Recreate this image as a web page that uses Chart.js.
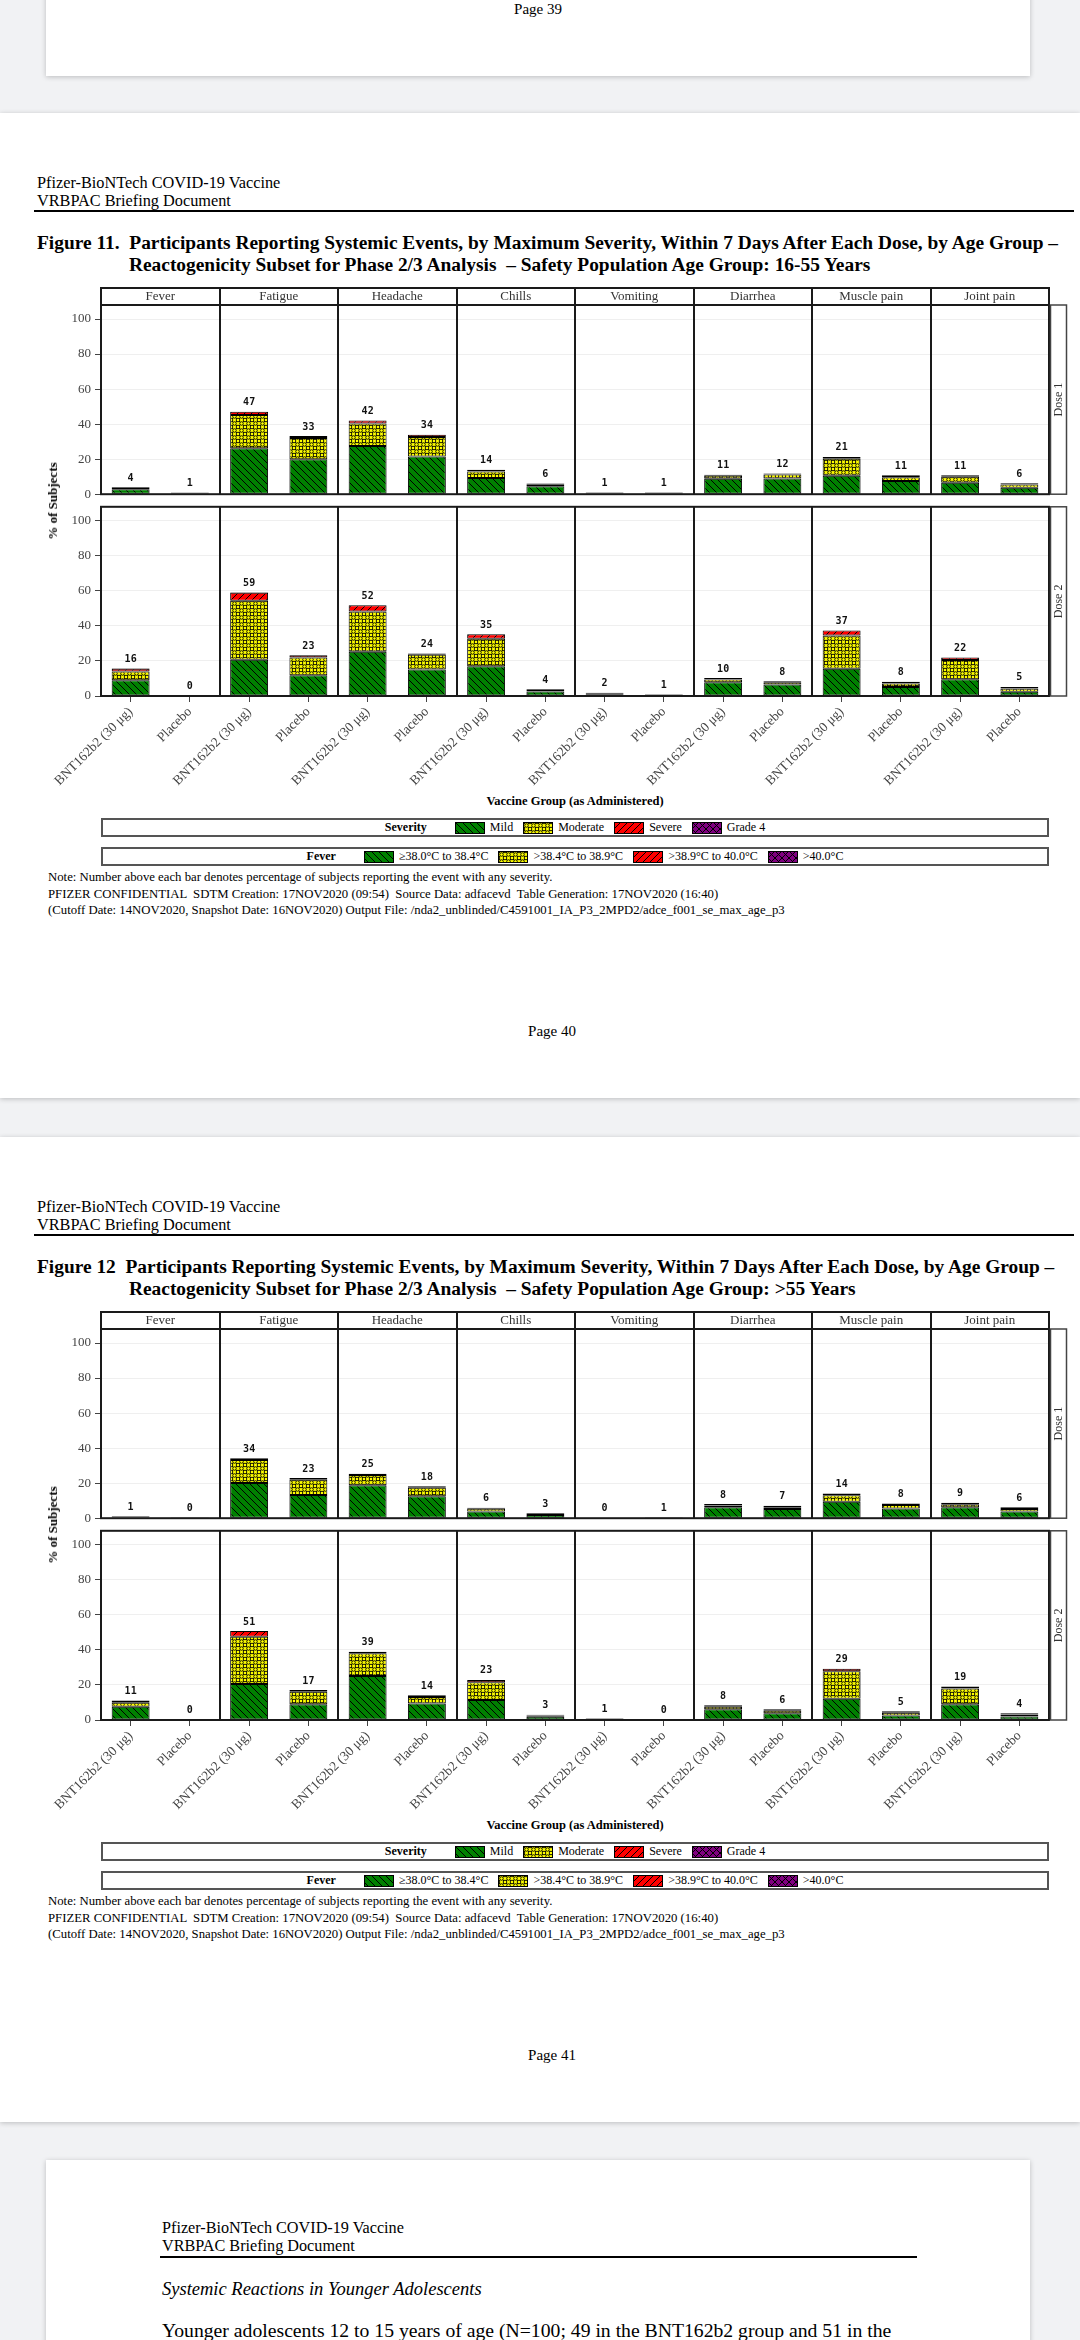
<!DOCTYPE html>
<html>
<head>
<meta charset="utf-8">
<script src="https://cdn.jsdelivr.net/npm/chart.js@4.4.1/dist/chart.umd.min.js"></script>
<style>
body { margin: 0; width: 1080px; height: 2340px; background: #f1f2f4; position: relative; overflow: hidden;
       font-family: "Liberation Serif", "Times New Roman", serif; color: #000; }
.card { position: absolute; background: #fff; box-shadow: 0 1px 5px rgba(0,0,0,.22); }
.t { position: absolute; white-space: nowrap; line-height: 20px; }
canvas.c { position: absolute; left: 0; }
.leg { position: absolute; left: 101px; width: 944px; height: 15px; border: 2px solid #555; background: #fff;
       display: flex; justify-content: center; align-items: center; font-size: 12px; gap: 0; }
.leg b { margin-right: 18px; }
.leg canvas { margin: 0 5px 0 10px; }
</style>
</head>
<body>
<script>
const symptoms = ['Fever', 'Fatigue', 'Headache', 'Chills', 'Vomiting', 'Diarrhea', 'Muscle pain', 'Joint pain'];
const groups = ['BNT162b2 (30 \u03bcg)', 'Placebo'];
const yTickValues = [0, 20, 40, 60, 80, 100];
const severityNames = ['Mild', 'Moderate', 'Severe', 'Grade 4'];
const feverNames = ['\u226538.0\u00b0C to 38.4\u00b0C', '>38.4\u00b0C to 38.9\u00b0C', '>38.9\u00b0C to 40.0\u00b0C', '>40.0\u00b0C'];

// Figure 11, age 16-55 (pairs: BNT162b2, Placebo per symptom)
const f11d1Mild     = [2.8, 0.6, 26.2, 20.0, 27.5, 21.5, 9.3, 4.5, 0.6, 0.6, 8.8, 9.0, 10.6, 7.5, 6.5, 3.7];
const f11d1Moderate = [0.8, 0.2, 19.0, 12.1, 12.9, 11.2, 3.7, 1.2, 0.3, 0.3, 1.8, 2.2, 9.6, 2.2, 3.4, 1.9];
const f11d1Severe   = [0.4, 0.2, 1.9, 1.1, 1.6, 1.3, 1.0, 0.4, 0.1, 0.1, 0.5, 0.6, 1.1, 1.1, 0.9, 0.6];
const f11d1Grade4   = [0.1, 0.1, 0, 0, 0, 0, 0, 0, 0, 0, 0, 0, 0, 0, 0, 0];
const f11d1Total    = [4, 1, 47, 33, 42, 34, 14, 6, 1, 1, 11, 12, 21, 11, 11, 6];

const f11d2Mild     = [9.0, 0.2, 20.7, 11.8, 25.2, 15.1, 17.0, 2.5, 1.0, 0.5, 7.9, 6.5, 15.5, 5.2, 9.5, 2.4];
const f11d2Moderate = [5.0, 0.1, 33.7, 10.2, 23.0, 8.4, 15.7, 1.0, 0.6, 0.3, 1.5, 1.4, 19.1, 1.9, 11.1, 1.9];
const f11d2Severe   = [1.6, 0, 4.6, 1.3, 3.6, 0.8, 2.6, 0.5, 0.3, 0.2, 0.9, 0.5, 2.8, 1.1, 1.4, 0.9];
const f11d2Grade4   = [0.3, 0, 0.2, 0, 0, 0, 0, 0, 0, 0, 0, 0, 0, 0, 0, 0];
const f11d2Total    = [16, 0, 59, 23, 52, 24, 35, 4, 2, 1, 10, 8, 37, 8, 22, 5];

// Figure 12, age >55
const f12d1Mild     = [0.6, 0.1, 20.1, 13.3, 18.8, 12.6, 3.8, 1.8, 0.2, 0.4, 6.2, 5.3, 9.4, 5.6, 6.2, 3.8];
const f12d1Moderate = [0.4, 0.1, 13.1, 8.7, 5.8, 4.8, 1.6, 0.8, 0.1, 0.2, 1.0, 0.9, 3.7, 1.9, 1.7, 1.5];
const f12d1Severe   = [0.3, 0, 1.0, 1.0, 0.8, 0.8, 0.6, 0.4, 0, 0.1, 0.9, 0.9, 1.0, 0.9, 0.9, 0.9];
const f12d1Grade4   = [0, 0, 0, 0, 0, 0, 0, 0, 0, 0, 0, 0, 0, 0, 0, 0];
const f12d1Total    = [1, 0, 34, 23, 25, 18, 6, 3, 0, 1, 8, 7, 14, 8, 9, 6];

const f12d2Mild     = [7.5, 0.1, 20.6, 9.0, 25.1, 9.4, 11.4, 1.8, 0.5, 0.1, 6.2, 3.8, 12.2, 2.6, 9.0, 2.0];
const f12d2Moderate = [2.4, 0.1, 26.9, 7.1, 13.0, 3.7, 10.2, 0.8, 0.3, 0.1, 1.3, 1.5, 15.6, 1.5, 9.0, 1.2];
const f12d2Severe   = [1.0, 0, 3.3, 1.0, 0.9, 1.0, 1.3, 0.4, 0.2, 0, 0.9, 0.9, 1.5, 0.9, 1.1, 0.7];
const f12d2Grade4   = [0.2, 0, 0, 0, 0, 0, 0, 0, 0, 0, 0, 0, 0, 0, 0, 0];
const f12d2Total    = [11, 0, 51, 17, 39, 14, 23, 3, 1, 0, 8, 6, 29, 5, 19, 4];

const notes = [
  'Note: Number above each bar denotes percentage of subjects reporting the event with any severity.',
  'PFIZER CONFIDENTIAL  SDTM Creation: 17NOV2020 (09:54)  Source Data: adfacevd  Table Generation: 17NOV2020 (16:40)',
  '(Cutoff Date: 14NOV2020, Snapshot Date: 16NOV2020) Output File: /nda2_unblinded/C4591001_IA_P3_2MPD2/adce_f001_se_max_age_p3'
];

const categoryLabels = symptoms.flatMap(() => groups);

function makePattern(bg, kind) {
  const s = 7;
  const c = document.createElement('canvas');
  c.width = s; c.height = s;
  const g = c.getContext('2d');
  g.fillStyle = bg; g.fillRect(0, 0, s, s);
  g.strokeStyle = '#000'; g.lineWidth = 1;
  const back = () => {
    g.beginPath();
    g.moveTo(-1, -1); g.lineTo(s + 1, s + 1);
    g.moveTo(-1, s - 1); g.lineTo(1, s + 1);
    g.moveTo(s - 1, -1); g.lineTo(s + 1, 1);
    g.stroke();
  };
  const fwd = () => {
    g.beginPath();
    g.moveTo(-1, s + 1); g.lineTo(s + 1, -1);
    g.moveTo(-1, 1); g.lineTo(1, -1);
    g.moveTo(s - 1, s + 1); g.lineTo(s + 1, s - 1);
    g.stroke();
  };
  if (kind === 'back') back();
  if (kind === 'fwd') fwd();
  if (kind === 'cross' || kind === 'dots') { back(); fwd(); }
  if (kind === 'dots') {
    g.lineWidth = 0.9;
    [[s / 2, s / 2], [0, 0], [s, 0], [0, s], [s, s]].forEach(([x, y]) => {
      g.beginPath(); g.arc(x, y, 1.8, 0, Math.PI * 2);
      g.fillStyle = bg; g.fill(); g.stroke();
    });
  }
  return g.createPattern(c, 'repeat');
}

const fills = [
  makePattern('#008000', 'back'),
  makePattern('#ffff00', 'dots'),
  makePattern('#ff0000', 'fwd'),
  makePattern('#800080', 'cross')
];

const framePlugin = {
  id: 'frame',
  afterDatasetsDraw(chart, args, o) {
    const { ctx, chartArea: a, scales: { y } } = chart;
    const n = symptoms.length;
    const pw = (a.right - a.left) / n;
    ctx.save();
    // totals above each stack
    ctx.font = 'bold 10px "DejaVu Sans Mono"';
    ctx.fillStyle = '#111';
    ctx.textAlign = 'center';
    ctx.textBaseline = 'bottom';
    const meta = chart.getDatasetMeta(0);
    o.totals.forEach((v, i) => {
      let sum = 0;
      chart.data.datasets.forEach(d => { sum += d.data[i]; });
      ctx.fillText(String(v), meta.data[i].x, y.getPixelForValue(sum) - 4);
    });
    // panel borders
    ctx.strokeStyle = '#1a1a1a';
    ctx.lineWidth = 2;
    ctx.strokeRect(a.left, a.top, a.right - a.left, a.bottom - a.top);
    ctx.beginPath();
    for (let i = 1; i < n; i++) {
      const x = Math.round(a.left + i * pw);
      ctx.moveTo(x, a.top); ctx.lineTo(x, a.bottom);
    }
    ctx.stroke();
    // column header strip
    if (o.header) {
      const ht = a.top - 17;
      ctx.strokeRect(a.left, ht, a.right - a.left, 17);
      ctx.beginPath();
      for (let i = 1; i < n; i++) {
        const x = Math.round(a.left + i * pw);
        ctx.moveTo(x, ht); ctx.lineTo(x, a.top);
      }
      ctx.stroke();
      ctx.font = '13px "Liberation Serif"';
      ctx.fillStyle = '#333';
      ctx.textBaseline = 'middle';
      symptoms.forEach((s, i) => ctx.fillText(s, a.left + (i + 0.5) * pw, ht + 9));
    }
    // row header strip
    ctx.lineWidth = 1.5;
    ctx.strokeStyle = '#444';
    ctx.strokeRect(a.right + 1.5, a.top, 16, a.bottom - a.top);
    ctx.translate(a.right + 10, (a.top + a.bottom) / 2);
    ctx.rotate(-Math.PI / 2);
    ctx.font = '12px "Liberation Serif"';
    ctx.fillStyle = '#333';
    ctx.textBaseline = 'middle';
    ctx.fillText(o.dose, 0, 0);
    ctx.restore();
  }
};

function makeChart(top, height, series, totals, dose, withAxis) {
  const cv = document.createElement('canvas');
  cv.className = 'c';
  cv.width = 1080; cv.height = height;
  cv.style.top = top + 'px';
  cv.style.width = '1080px'; cv.style.height = height + 'px';
  document.body.appendChild(cv);
  const xAxis = {
    stacked: true,
    display: withAxis,
    border: { display: false },
    grid: { offset: false, drawOnChartArea: false, tickLength: 6, color: '#444' },
    ticks: { minRotation: 45, maxRotation: 45, autoSkip: false, padding: 2, color: '#444',
             font: { family: 'Liberation Serif', size: 13.5 } }
  };
  if (withAxis) xAxis.afterFit = s => { s.height = 95; };
  return new Chart(cv, {
    type: 'bar',
    data: {
      labels: categoryLabels,
      datasets: series.map((d, k) => ({
        label: severityNames[k],
        data: d,
        backgroundColor: fills[k],
        borderColor: '#000',
        borderWidth: 1,
        borderSkipped: false,
        barPercentage: 0.64,
        categoryPercentage: 1.0
      }))
    },
    options: {
      responsive: false,
      animation: false,
      layout: { padding: { top: withAxis ? 8 : 18, bottom: withAxis ? 0 : 8, right: 31, left: 0 } },
      plugins: {
        legend: { display: false },
        tooltip: { enabled: false },
        frame: { totals: totals, header: !withAxis, dose: dose }
      },
      scales: {
        x: xAxis,
        y: {
          stacked: true,
          min: 0,
          max: 108,
          border: { display: false },
          grid: { color: '#efefef', tickColor: '#444', tickLength: 6 },
          ticks: { padding: 4, color: '#444', font: { family: 'Liberation Serif', size: 13 } },
          afterBuildTicks: s => { s.ticks = yTickValues.map(v => ({ value: v })); },
          afterFit: s => { s.width = 101; }
        }
      }
    },
    plugins: [framePlugin]
  });
}

function txt(s, x, cy, css, center) {
  const d = document.createElement('div');
  d.className = 't';
  d.textContent = s;
  d.style.cssText += css || '';
  d.style.left = x + 'px';
  d.style.top = (cy - 10) + 'px';
  if (center) d.style.transform = 'translateX(-50%)';
  document.body.appendChild(d);
  return d;
}

function card(x, y, w, h) {
  const d = document.createElement('div');
  d.className = 'card';
  d.style.left = x + 'px'; d.style.top = y + 'px';
  d.style.width = w + 'px'; d.style.height = h + 'px';
  document.body.appendChild(d);
}

function hline(x1, x2, y) {
  const d = document.createElement('div');
  d.style.cssText = 'position:absolute;height:1.5px;background:#000;left:' + x1 + 'px;top:' + y + 'px;width:' + (x2 - x1) + 'px';
  document.body.appendChild(d);
}

function legendBox(top, title, names) {
  const box = document.createElement('div');
  box.className = 'leg';
  box.style.top = top + 'px';
  const b = document.createElement('b');
  b.textContent = title;
  box.appendChild(b);
  names.forEach((nm, k) => {
    const sw = document.createElement('canvas');
    sw.width = 30; sw.height = 12;
    const g = sw.getContext('2d');
    g.fillStyle = fills[k]; g.fillRect(0, 0, 30, 12);
    g.strokeStyle = '#000'; g.lineWidth = 1; g.strokeRect(0.5, 0.5, 29, 11);
    box.appendChild(sw);
    const sp = document.createElement('span');
    sp.textContent = nm;
    box.appendChild(sp);
  });
  document.body.appendChild(box);
}

function figure(P, num, age, d1, d1t, d2, d2t) {
  card(0, P, 1080, 985);
  txt('Pfizer-BioNTech COVID-19 Vaccine', 37, P + 70, 'font-size:16.3px');
  txt('VRBPAC Briefing Document', 37, P + 88, 'font-size:16.3px');
  hline(34, 1074, P + 97);
  txt(num + '  Participants Reporting Systemic Events, by Maximum Severity, Within 7 Days After Each Dose, by Age Group \u2013',
      37, P + 130, 'font-size:19.4px;font-weight:bold;white-space:pre');
  txt('Reactogenicity Subset for Phase 2/3 Analysis  \u2013 Safety Population Age Group: ' + age,
      129, P + 152, 'font-size:19.4px;font-weight:bold;white-space:pre');
  makeChart(P + 174, 219, d1, d1t, 'Dose 1', false);
  makeChart(P + 382, 296, d2, d2t, 'Dose 2', true);
  const yl = txt('% of Subjects', 53, P + 388, 'font-size:13px;font-weight:bold');
  yl.style.transform = 'translate(-50%,0) rotate(-90deg)';
  txt('Vaccine Group (as Administered)', 575, P + 688, 'font-size:12.5px;font-weight:bold', true);
  legendBox(P + 705, 'Severity', severityNames);
  legendBox(P + 734, 'Fever', feverNames);
  notes.forEach((s, i) => txt(s, 48, P + 764 + i * 16.5, 'font-size:12.75px;white-space:pre'));
  txt('Page ' + (num === 'Figure 11.' ? 40 : 41), 552, P + 918, 'font-size:15px', true);
}

// page 39 tail
card(46, -20, 984, 96);
txt('Page 39', 538, 9, 'font-size:15px', true);

figure(113, 'Figure 11.', '16-55 Years',
  [f11d1Mild, f11d1Moderate, f11d1Severe, f11d1Grade4], f11d1Total,
  [f11d2Mild, f11d2Moderate, f11d2Severe, f11d2Grade4], f11d2Total);
figure(1137, 'Figure 12', '>55 Years',
  [f12d1Mild, f12d1Moderate, f12d1Severe, f12d1Grade4], f12d1Total,
  [f12d2Mild, f12d2Moderate, f12d2Severe, f12d2Grade4], f12d2Total);

// next page head
card(46, 2160, 984, 260);
txt('Pfizer-BioNTech COVID-19 Vaccine', 162, 2228, 'font-size:16.2px');
txt('VRBPAC Briefing Document', 162, 2246, 'font-size:16.2px');
hline(160, 917, 2256);
txt('Systemic Reactions in Younger Adolescents', 162, 2289, 'font-size:18.5px;font-style:italic');
txt('Younger adolescents 12 to 15 years of age (N=100; 49 in the BNT162b2 group and 51 in the', 162, 2330, 'font-size:19.7px');
</script>
</body>
</html>
